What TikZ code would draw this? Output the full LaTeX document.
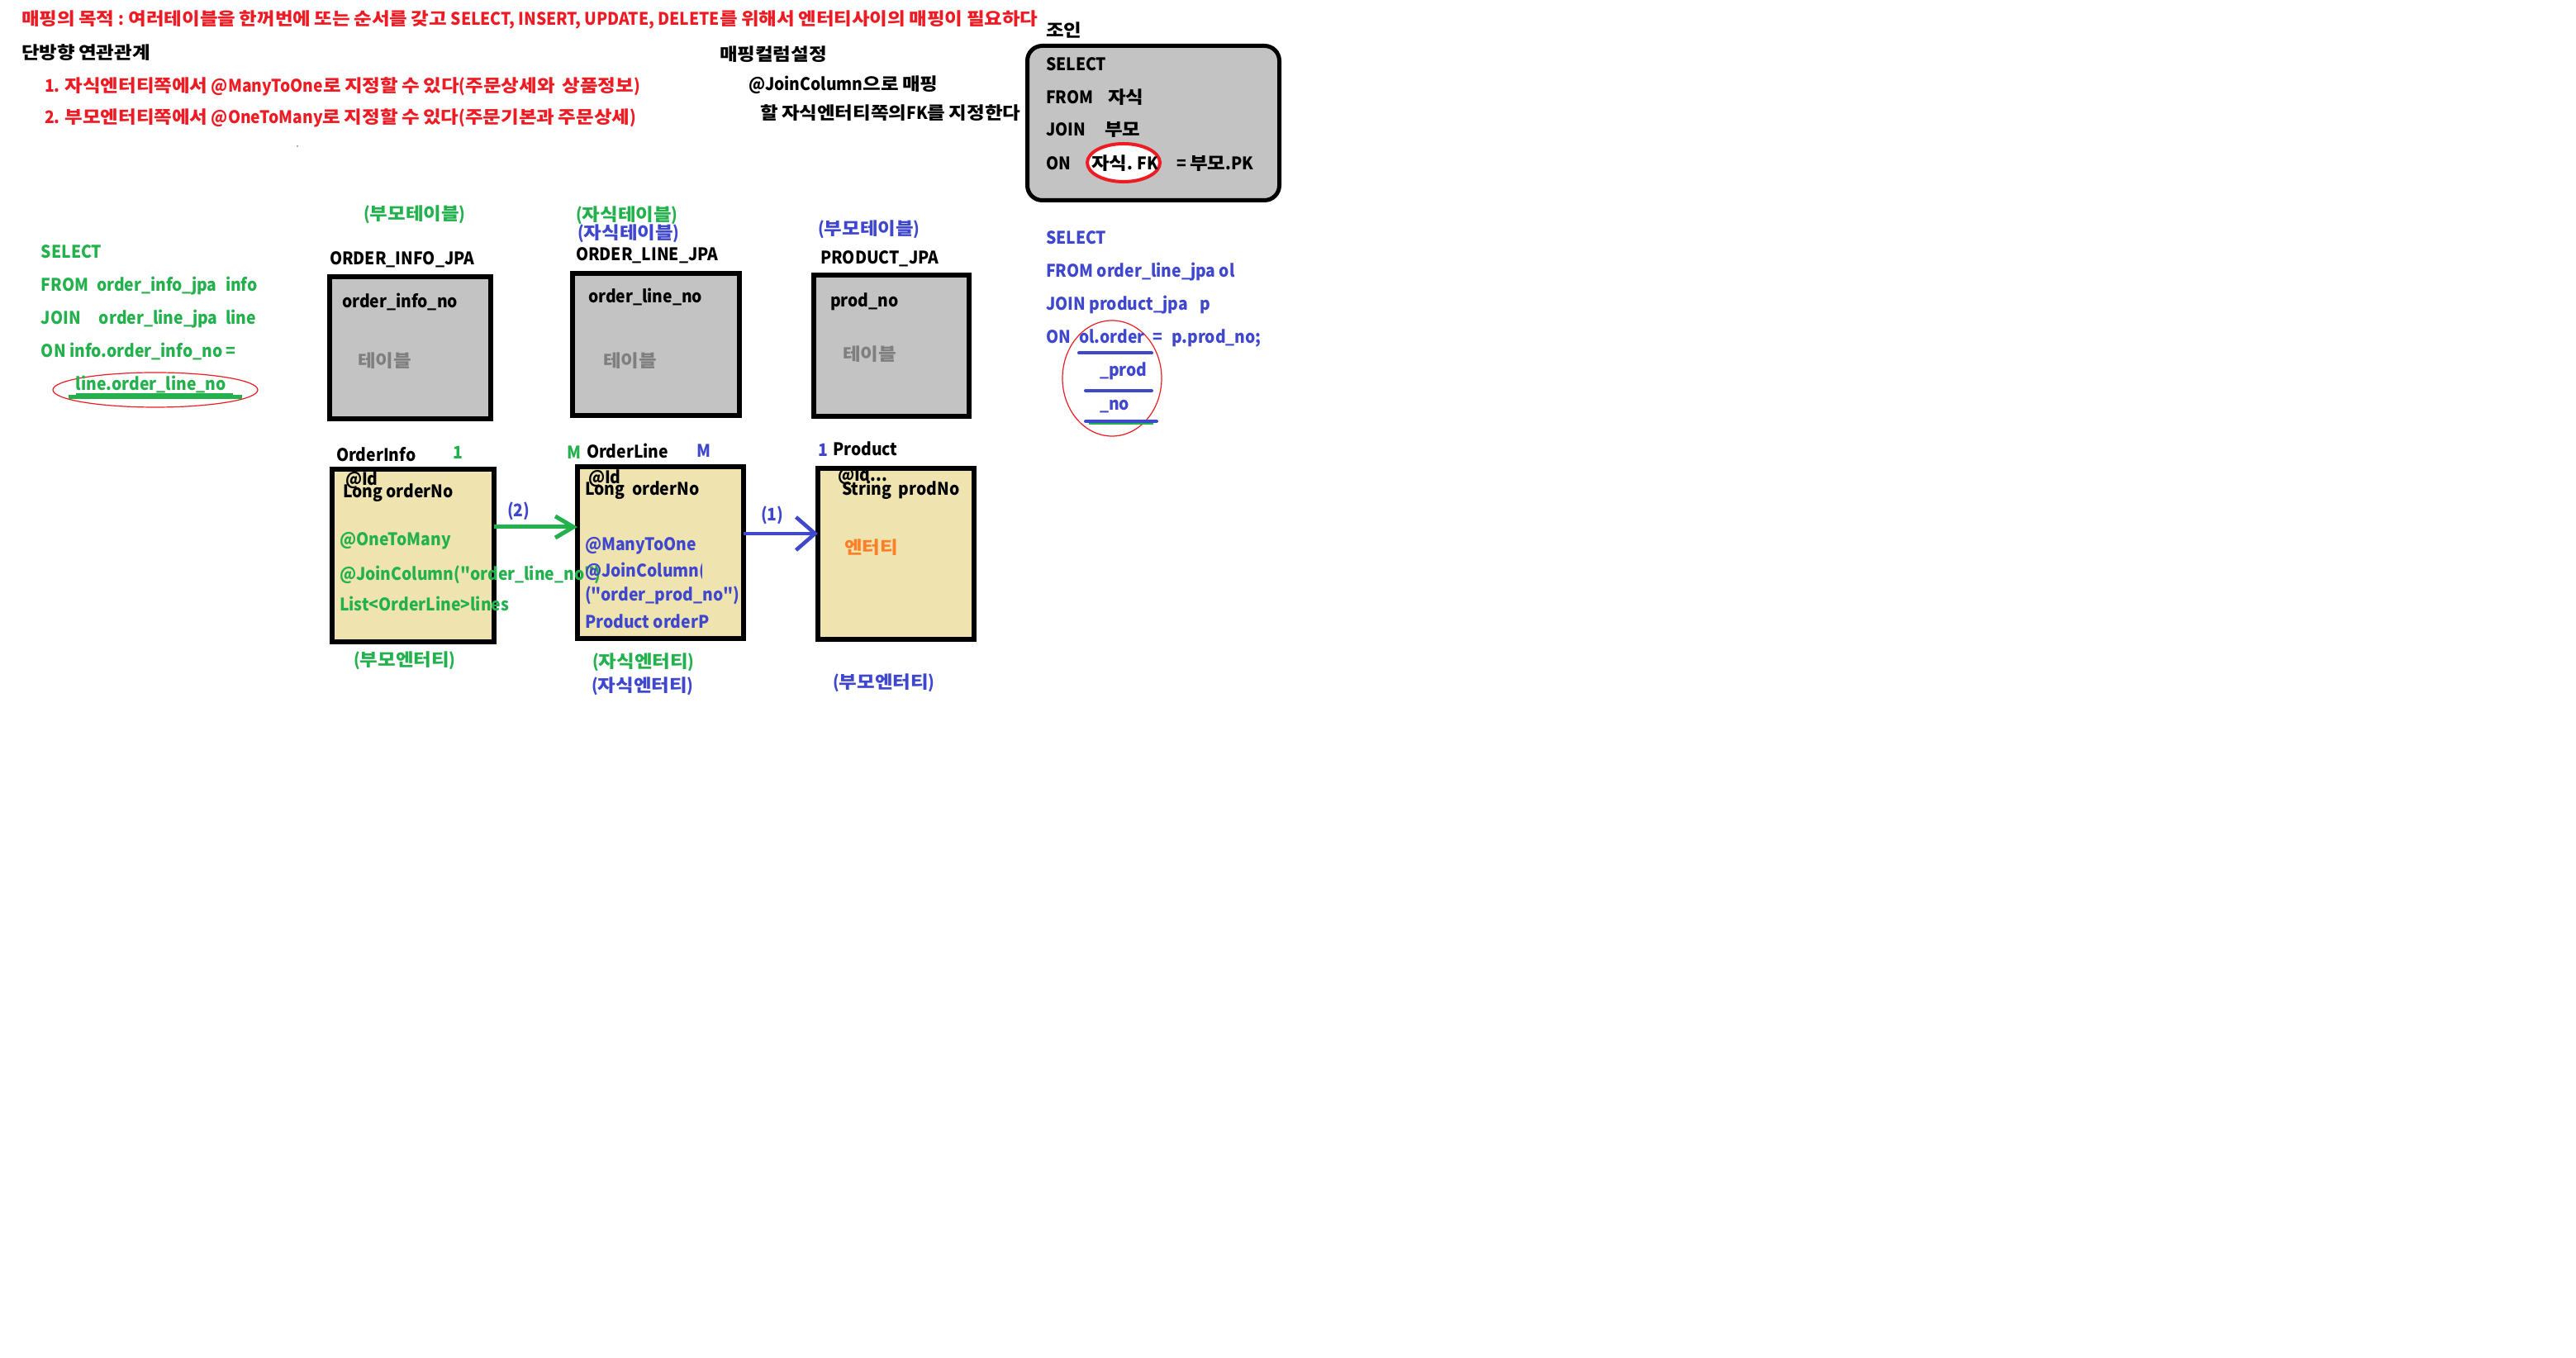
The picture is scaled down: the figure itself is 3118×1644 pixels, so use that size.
\documentclass[tikz,border=0pt]{standalone}
\usepackage{fontspec}
\setmainfont{Noto Sans CJK KR}[FakeStretch=0.92, Ligatures=TeXOff]
\newfontfamily\hangulfam{Noto Sans CJK KR}[FakeStretch=1.12, Ligatures=TeXOff]
% Hangul syllables are set in a wider cut than the Latin letters
\XeTeXinterchartokenstate=1
\newXeTeXintercharclass\hangulcls
\newcount\hcnt
\hcnt="AC00
\loop \XeTeXcharclass\hcnt=\hangulcls \advance\hcnt 1 \ifnum\hcnt<"D7A4 \repeat
\XeTeXinterchartoks 0 \hangulcls = {\hangulfam}
\XeTeXinterchartoks 4095 \hangulcls = {\hangulfam}
\XeTeXinterchartoks \hangulcls 0 = {\rmfamily}
\XeTeXinterchartoks \hangulcls 4095 = {\rmfamily}
\usetikzlibrary{arrows.meta}
\definecolor{pgreen}{HTML}{22B14C}
\definecolor{pblue}{HTML}{3F48CC}
\definecolor{pred}{HTML}{ED1C24}
\definecolor{porange}{HTML}{FF7F27}
\definecolor{ptan}{HTML}{EFE4B0}
\definecolor{pgray}{HTML}{C3C3C3}
\definecolor{pdark}{HTML}{7F7F7F}
\tikzset{
  lbl/.style={anchor=base west, inner sep=0pt, outer sep=0pt,
    font=\bfseries\fontsize{5.25pt}{6pt}\selectfont},
  boxbase/.style={draw=black, line width=1.5pt, rectangle, inner sep=0pt,
    outer sep=0pt, anchor=north west},
  tablebox/.style={boxbase, fill=pgray},
  entitybox/.style={boxbase, fill=ptan},
  joinbox/.style={boxbase, fill=pgray, line width=1.25pt, rounded corners=4.5pt},
  greenarrow/.style={draw=pgreen, line width=1.25pt,
    -{Straight Barb[length=5.5pt, width=6.5pt]}},
  bluearrow/.style={draw=pblue, line width=1.15pt,
    -{Straight Barb[length=5.75pt, width=10pt]}},
  thinring/.style={draw=pred, line width=0.3pt},
}
\begin{document}
\begin{tikzpicture}[x=0.25pt, y=-0.25pt]
\fill[white] (0,0) rectangle (3118,1644);
\useasboundingbox (0,0) rectangle (3118,1644);

% ---------- header notes ----------
\node[lbl, text=pred] (title) at (26,31) {매핑의 목적 : 여러테이블을 한꺼번에 또는 순서를 갖고 SELECT, INSERT, UPDATE, DELETE를 위해서 엔터티사이의 매핑이 필요하다};
\node[lbl] (uni) at (26,72) {단방향 연관관계};
\node[lbl, text=pred] (rule1) at (54,112) {1. 자식엔터티쪽에서 @ManyToOne로 지정할 수 있다(주문상세와\ \ 상품정보)};
\node[lbl, text=pred] (rule2) at (54,150) {2. 부모엔터티쪽에서 @OneToMany로 지정할 수 있다(주문기본과 주문상세)};
\fill[pdark] (360,177) circle (1);

\node[lbl] (mapcol) at (871,74) {매핑컬럼설정};
\node[lbl] (mapjc) at (906,110) {@JoinColumn으로 매핑};
\node[lbl] (mapfk) at (920,145) {할 자식엔터티쪽의FK를 지정한다};

% ---------- generic join ----------
\node[lbl] (jointitle) at (1266,45) {조인};
\node[joinbox, minimum width=76.25pt, minimum height=46.75pt] (jbox) at (1243.5,55.5) {};
\draw[pred, line width=1pt, fill=white] (1360,197) ellipse (44 and 23);
\node[lbl] (jsel) at (1266,86) {SELECT};
\node[lbl] (jfrom) at (1266,126) {FROM};
\node[lbl] (jfromt) at (1341,126) {자식};
\node[lbl] (jjoin) at (1266,165) {JOIN};
\node[lbl] (jjoint) at (1337,165) {부모};
\node[lbl] (jon) at (1266,206) {ON};
\node[lbl] (jfk) at (1321,206) {자식. FK};
\node[lbl] (jpk) at (1424,206) {= 부모.PK};

% ---------- tables ----------
\node[tablebox, minimum width=48.75pt, minimum height=43pt] (t1) at (399,335) {};
\node[tablebox, minimum width=50.5pt, minimum height=43pt] (t2) at (693,331) {};
\node[tablebox, minimum width=47pt, minimum height=42.75pt] (t3) at (985,333) {};

\node[lbl, text=pgreen] (t1role) at (440,267) {(부모테이블)};
\node[lbl] (t1name) at (399,321) {ORDER\_INFO\_JPA};
\node[lbl] (t1col) at (414,373) {order\_info\_no};
\node[lbl, text=pdark] (t1tag) at (433,445) {테이블};

\node[lbl, text=pgreen] (t2roleg) at (697,268) {(자식테이블)};
\node[lbl, text=pblue] (t2roleb) at (699,290) {(자식테이블)};
\node[lbl] (t2name) at (697,316) {ORDER\_LINE\_JPA};
\node[lbl] (t2col) at (712,367) {order\_line\_no};
\node[lbl, text=pdark] (t2tag) at (730,445) {테이블};

\node[lbl, text=pblue] (t3role) at (990,285) {(부모테이블)};
\node[lbl] (t3name) at (993,320) {PRODUCT\_JPA};
\node[lbl] (t3col) at (1005,372) {prod\_no};
\node[lbl, text=pdark] (t3tag) at (1020,437) {테이블};

% ---------- SQL: order info with order line ----------
\draw[thinring] (188,472) ellipse (124 and 21);
\node[lbl, text=pgreen] (gsel) at (50,313) {SELECT};
\node[lbl, text=pgreen] (gfrom) at (50,353) {FROM};
\node[lbl, text=pgreen] (gfromt) at (117,353) {order\_info\_jpa};
\node[lbl, text=pgreen] (gfroma) at (273,353) {info};
\node[lbl, text=pgreen] (gjoin) at (50,393) {JOIN};
\node[lbl, text=pgreen] (gjoint) at (120,393) {order\_line\_jpa};
\node[lbl, text=pgreen] (gjoina) at (273,393) {line};
\node[lbl, text=pgreen] (gon) at (50,433) {ON info.order\_info\_no =};
\node[lbl, text=pgreen] (gonr) at (92,473) {line.order\_line\_no};
\draw[pgreen, line width=0.3pt] (92,477) -- (282,477);
\draw[pgreen, line width=1.25pt] (83,481) -- (293,481);

% ---------- SQL: order line with product ----------
\draw[thinring] (1346,458) ellipse (60 and 70);
\node[lbl, text=pblue] (bsel) at (1266,296) {SELECT};
\node[lbl, text=pblue] (bfrom) at (1266,336) {FROM order\_line\_jpa ol};
\node[lbl, text=pblue] (bjoin) at (1266,376) {JOIN product\_jpa};
\node[lbl, text=pblue] (bjoina) at (1452,376) {p};
\node[lbl, text=pblue] (bon) at (1266,416) {ON};
\node[lbl, text=pblue] (bonl) at (1306,416) {ol.order};
\node[lbl, text=pblue] (boneq) at (1395,416) {=};
\node[lbl, text=pblue] (bonr) at (1418,416) {p.prod\_no;};
\node[lbl, text=pblue] (bprod) at (1331,456) {\_prod};
\node[lbl, text=pblue] (bno) at (1331,497) {\_no};
\draw[pblue, line width=1pt, line cap=round] (1306,427.5) -- (1394,427.5);
\draw[pblue, line width=1pt, line cap=round] (1314,473) -- (1394,473);
\draw[pgreen, line width=0.5pt] (1318,513.5) -- (1396,513.5);
\draw[pblue, line width=1pt, line cap=round] (1314,510) -- (1400,510);

% ---------- entities ----------
\node[entitybox, minimum width=49pt, minimum height=52.25pt] (e1) at (402,568) {};
\node[entitybox, minimum width=50.25pt, minimum height=52pt] (e2) at (699,565) {};
\node[entitybox, minimum width=47.25pt, minimum height=51.75pt] (e3) at (990,567) {};

\coordinate (g2) at (0,638);
\coordinate (b1) at (0,646);
\draw[greenarrow] (e1.east |- g2) -- (e2.west |- g2);
\draw[bluearrow] (e2.east |- b1) -- (e3.west |- b1);
\node[lbl, text=pblue] (lbl2) at (614,626) {(2)};
\node[lbl, text=pblue] (lbl1) at (921,631) {(1)};

% OrderInfo
\node[lbl] (e1name) at (407,559) {OrderInfo};
\node[lbl, text=pgreen] (e1card) at (548,556) {1};
\node[lbl] (e1id) at (418,588) {@Id};
\node[lbl] (e1key) at (415,603) {Long orderNo};
\node[lbl, text=pgreen] (e1otm) at (411,661) {@OneToMany};
\node[lbl, text=pgreen] (e1jc) at (411,703) {@JoinColumn("order\_line\_no")};
\node[lbl, text=pgreen] (e1list) at (411,740) {List<OrderLine>lines};
\node[lbl, text=pgreen] (e1role) at (428,807) {(부모엔터티)};

% OrderLine
\node[lbl, text=pgreen] (e2cardg) at (686,556) {M};
\node[lbl] (e2name) at (710,555) {OrderLine};
\node[lbl, text=pblue] (e2cardb) at (843,554) {M};
\node[lbl] (e2id) at (712,586) {@Id};
\node[lbl] (e2key) at (708,600) {Long\ \ orderNo};
\node[lbl, text=pblue] (e2mto) at (708,667) {@ManyToOne};
\begin{scope}
  \clip (700,670) rectangle (849,710);
  \node[lbl, text=pblue] (e2jc) at (708,699) {@JoinColumn(};
\end{scope}
\node[lbl, text=pblue] (e2jcn) at (708,728) {("order\_prod\_no")};
\node[lbl, text=pblue] (e2ref) at (708,761) {Product orderP};
\node[lbl, text=pgreen] (e2roleg) at (717,809) {(자식엔터티)};
\node[lbl, text=pblue] (e2roleb) at (716,838) {(자식엔터티)};

% Product
\node[lbl, text=pblue] (e3card) at (990,553) {1};
\node[lbl] (e3name) at (1008,552) {Product};
\node[lbl] (e3id) at (1014,583) {@Id...};
\node[lbl] (e3key) at (1019,600) {String\ \ prodNo};
\node[lbl, text=porange] (e3tag) at (1022,671) {엔터티};
\node[lbl, text=pblue] (e3role) at (1008,834) {(부모엔터티)};
\end{tikzpicture}
\end{document}
